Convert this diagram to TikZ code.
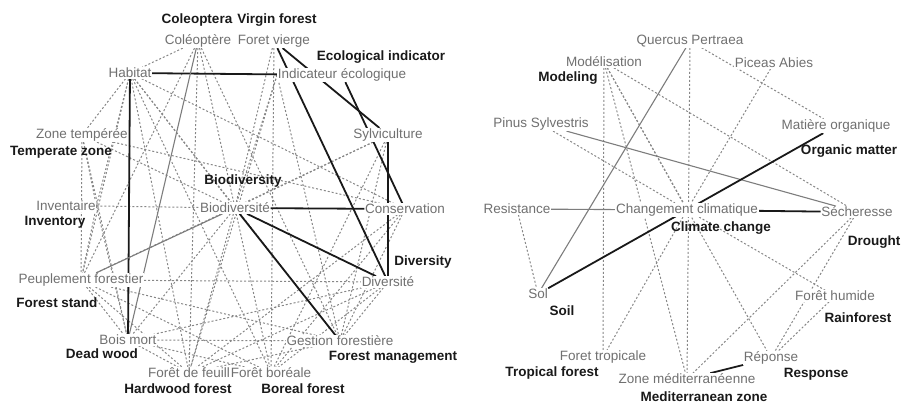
\documentclass[tikz,border=0pt]{standalone}
\usepackage{fontspec}
\setmainfont{Liberation Sans}
\definecolor{frgray}{RGB}{112,112,112}
\definecolor{dashgray}{RGB}{135,135,135}
\definecolor{solidgray}{RGB}{125,125,125}
\definecolor{ink}{RGB}{25,25,25}
\pgfdeclarelayer{edges}
\pgfsetlayers{edges,main}
\begin{document}
\begin{tikzpicture}[x=1pt,y=-1pt,
  fr/.style={text=frgray, fill=white, inner sep=0.6pt, font=\fontsize{13.5}{15}\selectfont},
  en/.style={text=ink, inner sep=0pt, font=\fontsize{13.5}{15}\selectfont\bfseries},
  dl/.style={draw=dashgray, line width=1pt, dash pattern=on 2pt off 2pt},
  sk/.style={draw=ink, line width=1.8pt},
  sg/.style={draw=solidgray, line width=1.1pt}]
\useasboundingbox (0,0) rectangle (901,403);
% ---------------- left graph: French labels ----------------
\node[fr] (Cl) at (198,41) {Coléoptère};
\node[fr] (Fl) at (274,41) {Foret vierge};
\node[fr] (Hl) at (130,73) {Habitat};
\node[fr] (Il) at (342,75) {Indicateur écologique};
\node[fr] (Zl) at (82,135) {Zone tempérée};
\node[fr] (Sl) at (388,135) {Sylviculture};
\node[fr] (Invl) at (66,206) {Inventaire};
\node[fr] (Bl) at (235,208) {Biodiversité};
\node[fr] (Consl) at (405,209) {Conservation};
\node[fr] (Pl) at (81,280) {Peuplement forestier};
\node[fr] (Dl) at (388,282) {Diversité};
\node[fr] (BMl) at (128,340) {Bois mort};
\node[fr] (Gl) at (340,341) {Gestion forestière};
\node[fr] (FFl) at (189,373) {Forêt de feuill};
\node[fr] (FBl) at (271,373) {Forêt boréale};
% ---------------- left graph: English labels ----------------
\node[en] (Ce) at (197,20) {Coleoptera};
\node[en] (Fe) at (277,20) {Virgin forest};
\node[en] (Ie) at (381,57) {Ecological indicator};
\node[en] (Ze) at (61,152) {Temperate zone};
\node[en] (Be) at (243,181) {Biodiversity};
\node[en] (Inve) at (55,222) {Inventory};
\node[en] (De) at (423,262) {Diversity};
\node[en] (Pe) at (57,303) {Forest stand};
\node[en] (BMe) at (102,354) {Dead wood};
\node[en] (Ge) at (393,357) {Forest management};
\node[en] (FFe) at (178,389) {Hardwood forest};
\node[en] (FBe) at (303,389) {Boreal forest};
% ---------------- right graph: French labels ----------------
\node[fr] (Ql) at (690,41) {Quercus Pertraea};
\node[fr] (Modl) at (604,62) {Modélisation};
\node[fr] (PAl) at (774,63) {Piceas Abies};
\node[fr] (PSl) at (541,124) {Pinus Sylvestris};
\node[fr] (MOl) at (836,126) {Matière organique};
\node[fr] (Rl) at (517,209) {Resistance};
\node[fr] (Chl) at (687,210) {Changement climatique};
\node[fr] (Sel) at (857,212) {Sécheresse};
\node[fr] (Soll) at (538,294) {Sol};
\node[fr] (FHl) at (835,296) {Forêt humide};
\node[fr] (FTl) at (603,357) {Foret tropicale};
\node[fr] (Repl) at (771,358) {Réponse};
\node[fr] (Zml) at (687,379) {Zone méditerranéenne};
% ---------------- right graph: English labels ----------------
\node[en] (Mode) at (568,78) {Modeling};
\node[en] (MOe) at (849,151) {Organic matter};
\node[en] (Che) at (721,228) {Climate change};
\node[en] (See) at (874,242) {Drought};
\node[en] (Sole) at (562,311) {Soil};
\node[en] (FHe) at (858,318) {Rainforest};
\node[en] (FTe) at (552,373) {Tropical forest};
\node[en] (Repe) at (816,374) {Response};
\node[en] (Zme) at (704,397) {Mediterranean zone};
% ---------------- edges ----------------
\begin{pgfonlayer}{edges}
% left, dashed
\foreach \a/\b in {Cl/Hl, Cl/Pl, Cl/FFl, Cl/Bl, Cl/Gl, Fl/Bl, Fl/FBl,
  Hl/Zl, Hl/Bl, Hl/Gl, Hl/FBl, Hl/Consl, Hl/FFl, Hl/Pl,
  Zl/Pl, Zl/Bl, Zl/Consl, Zl/BMl,
  Sl/Bl, Sl/FBl, Sl/Gl, Sl/Pl,
  Bl/BMl, Bl/FFl, Bl/FBl,
  Consl/FFl, Consl/FBl, Consl/Gl,
  Pl/Dl, Pl/FBl, Pl/Gl, Pl/FFl, Pl/BMl,
  Dl/Gl, Dl/FFl, Dl/FBl, Dl/BMl,
  BMl/Gl, BMl/FFl, BMl/FBl, Gl/FFl}
  \draw[dl] (\a) -- (\b);
\draw[dl] (Il.west) -- (Gl);
\draw[dl] (Il.west) -- (FFl);
\draw[dl] (Il.west) -- (Bl);
\draw[dl] (Hl) -- (Invl.east);
\draw[dl] (Zl) -- (Invl.east);
\draw[dl] (Invl.east) -- (Bl);
\draw[dl] (Invl.east) -- (Pl);
\draw[dl] (Invl.east) -- (BMl);
% left, solid
\draw[sk] (Hl) -- (Il);
\draw[sk] (Fl) -- (Sl);
\draw[sk] (Fl) -- (Dl);
\draw[sk] (Il) -- (Consl);
\draw[sk] (Sl) -- (Dl);
\draw[sk] (Bl) -- (Consl);
\draw[sk] (Bl) -- (Dl);
\draw[sk] (Bl) -- (Gl);
\draw[sk] (Hl) -- (BMl);
\draw[sg] (Cl) -- (BMl);
\draw[sg] (Bl) -- (Pl);
% right, dashed
\foreach \a/\b in {Ql/Zml, Ql/MOl, Modl/FTl, Modl/Chl, Modl/Zml, Modl/Repl, Modl/Sel,
  PSl/Chl, PAl/Chl, Rl/Soll, Chl/FTl, Chl/FHl, Sel/Zml, Sel/Repl, FHl/Repl}
  \draw[dl] (\a) -- (\b);
% right, solid
\draw[sg] (Ql) -- (Soll);
\draw[sg] (PSl) -- (Sel);
\draw[sg] (Rl) -- (Chl);
\draw[sk] (Chl) -- (Sel);
\draw[sk] (Soll) -- (MOl);
\draw[sk] (Repl) -- (Zml);
\end{pgfonlayer}
\end{tikzpicture}
\end{document}
